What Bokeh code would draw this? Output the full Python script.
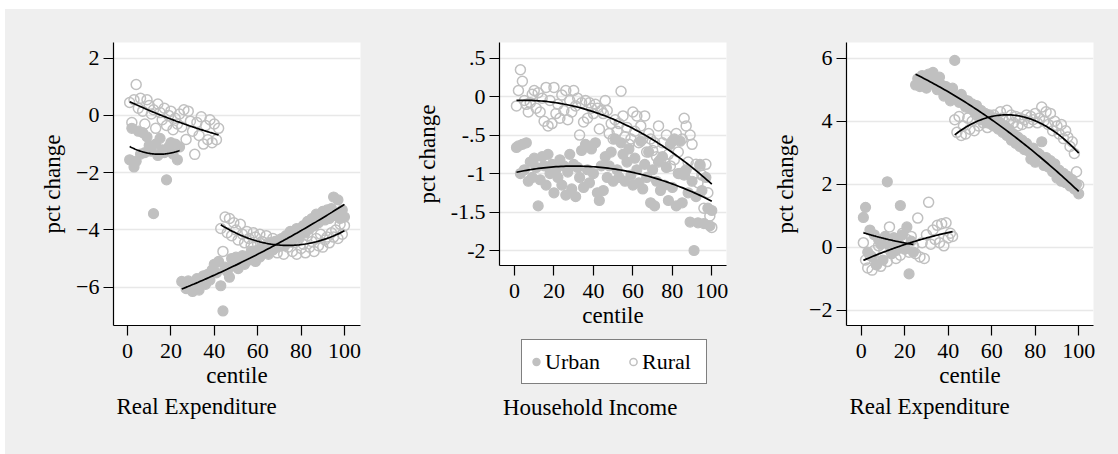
import numpy as np
from bokeh.plotting import figure
from bokeh.layouts import row, column
from bokeh.models import Range1d, FixedTicker, Legend, LegendItem, Title, Label
from bokeh.embed import file_html
from bokeh.resources import INLINE

# ---------------------------------------------------------------------------
# Data: percentage change by centile, urban and rural households
# ---------------------------------------------------------------------------
centile = list(range(1, 101))

# Real expenditure (left panel)
exp_a_urban = [
    -1.55, -0.45, -1.80, -1.60, -0.55, -1.35, -0.60, -1.30, -0.75, -1.05,
    -1.25, -3.43, -1.00, -1.40, -0.80, -1.20, -1.30, -2.25, -1.10, -0.95,
    -1.35, -1.00, -1.55, -1.10,
    -5.80, -5.85, -6.05, -5.78, -5.90, -6.15, -5.95, -5.70, -6.10, -5.85,
    -5.60, -5.90, -5.55, -5.75, -5.40, -5.20, -5.50, -5.10, -5.95, -6.83,
    -5.30, -5.45, -5.65, -5.00, -5.25, -4.95, -5.35, -5.10, -4.90, -5.20,
    -4.95, -5.05, -4.75, -4.85, -5.10, -4.70, -4.95, -4.60, -4.80, -4.55,
    -4.85, -4.45, -4.70, -4.40, -4.60, -4.50, -4.30, -4.55, -4.20, -4.40,
    -4.05, -4.35, -4.15, -3.95, -4.25, -4.00, -3.85, -4.10, -3.70, -3.95,
    -3.60, -3.85, -3.45, -3.75, -3.55, -3.35, -3.65, -3.30, -3.60, -3.25,
    -2.85, -3.50, -2.95, -3.60, -3.30, -3.55,
]
exp_a_rural = [
    0.45, -0.25, 0.55, 1.08, 0.25, 0.60, 0.15, -0.30, 0.55, 0.35,
    0.05, 0.20, -0.45, 0.40, 0.10, -0.15, 0.25, -0.35, 0.00, 0.15,
    -0.50, -0.10, -0.30, 0.05, -0.40, 0.20, -0.84, 0.15, -0.20, -0.55,
    -1.36, -0.25, -0.70, -0.05, -1.00, -0.35, -0.85, -0.15, -0.95, -0.30,
    -0.85, -0.45,
    -3.95, -4.75, -3.55, -4.10, -3.60, -4.20, -3.75, -4.00, -4.35, -3.80,
    -4.15, -4.45, -4.05, -4.30, -4.55, -4.10, -4.25, -4.50, -4.15, -4.40,
    -4.60, -4.20, -4.45, -4.70, -4.30, -4.50, -4.80, -4.35, -4.55, -4.85,
    -4.40, -4.60, -4.25, -4.75, -4.45, -4.85, -4.30, -4.65, -4.50, -4.80,
    -4.20, -4.60, -4.40, -4.75, -4.30, -4.55, -4.15, -4.60, -4.35, -4.25,
    -4.45, -4.10, -4.25, -4.00, -4.30, -3.80, -4.15, -3.85,
]

# Household income (middle panel)
inc_urban = [
    -0.66, -0.64, -1.00, -0.62, -0.95, -0.60, -1.10, -0.85, -1.05, -0.80,
    -0.92, -1.42, -1.08, -0.78, -0.90, -1.15, -0.75, -1.00, -0.88, -1.25,
    -0.95, -1.05, -0.82, -1.15, -0.90, -1.28, -0.98, -0.75, -1.20, -0.88,
    -1.30, -0.92, -1.05, -0.70, -1.18, -0.62, -0.95, -1.12, -0.68, -1.00,
    -0.60, -1.25, -1.35, -0.90, -1.22, -0.78, -1.05, -0.90, -0.72, -1.10,
    -0.55, -0.95, -1.05, -0.60, -0.75, -1.10, -0.85, -0.68, -1.02, -1.15,
    -0.80, -0.95, -1.12, -0.58, -1.20, -0.88, -1.05, -0.72, -1.38, -0.95,
    -1.42, -1.10, -0.85, -1.22, -0.78, -1.15, -0.92, -1.35, -0.62, -1.18,
    -0.55, -1.42, -1.00, -0.58, -1.38, -1.02, -0.95, -1.25, -1.63, -1.10,
    -2.00, -1.30, -1.64, -0.88, -1.22, -1.65, -1.05, -1.45, -1.68, -1.48,
]
inc_rural = [
    -0.12, 0.08, 0.35, 0.20, -0.05, -0.10, -0.20, -0.08, 0.03, 0.08,
    -0.15, 0.05, -0.20, -0.02, -0.32, 0.12, -0.38, -0.05, -0.35, 0.12,
    -0.22, -0.10, -0.28, 0.02, -0.18, 0.08, -0.30, -0.05, -0.20, 0.08,
    -0.12, -0.02, -0.50, -0.08, -0.33, -0.05, -0.28, -0.08, -0.15, -0.22,
    -0.10, -0.15, -0.42, -0.18, -0.22, -0.05, -0.18, -0.48, -0.35, -0.55,
    -0.30, -0.45, -0.35, 0.07, -0.25, -0.52, -0.40, -0.62, -0.55, -0.20,
    -0.45, -0.25, -0.60, -0.38, -0.55, -0.25, -0.72, -0.48, -0.55, -0.70,
    -0.60, -0.78, -0.38, -0.82, -0.60, -0.85, -0.50, -0.75, -0.90, -0.58,
    -0.82, -0.48, -0.72, -1.00, -0.55, -0.28, -0.38, -0.85, -0.50, -0.62,
    -1.00, -0.88, -1.12, -0.90, -1.02, -1.45, -0.88, -1.25, -1.55, -1.70,
]

# Real expenditure (right panel)
exp_b_urban = [
    0.95, 1.27, -0.15, 0.55, -0.30, 0.40, -0.55, 0.25, 0.10, -0.40,
    0.35, 2.08, 0.05, -0.20, 0.30, -0.10, 0.15, 1.33, 0.40, -0.05,
    0.65, -0.84, 0.20, -0.15,
    5.15, 5.35, 5.10, 5.45, 5.25, 5.05, 5.50, 5.30, 5.55, 5.20,
    5.00, 5.40, 5.15, 4.80, 5.10, 4.95, 4.65, 5.05, 5.93, 4.75,
    4.60, 4.85, 4.70, 4.45, 4.65, 4.40, 4.55, 4.30, 4.50, 4.15,
    4.35, 4.05, 4.25, 3.95, 4.20, 4.00, 3.85, 4.10, 3.75, 3.95,
    3.65, 3.85, 3.55, 3.75, 3.40, 3.60, 3.30, 3.50, 3.20, 3.40,
    3.10, 3.30, 3.05, 2.80, 3.15, 2.70, 3.00, 2.95, 3.35, 2.60,
    2.85, 2.55, 2.75, 2.40, 2.65, 2.20, 2.45, 2.10, 2.35, 2.05,
    2.25, 1.95, 2.15, 1.85, 2.00, 1.70,
]
exp_b_rural = [
    0.15, -0.40, -0.65, -0.25, -0.72, -0.10, -0.55, 0.05, -0.60, -0.30,
    0.20, -0.45, 0.65, -0.15, 0.30, -0.35, 0.10, -0.25, 0.45, -0.05,
    0.25, -0.15, 0.35, 0.05, -0.20, 0.93, -0.30, 0.15, -0.35, 0.40,
    1.43, 0.10, 0.55, 0.25, 0.70, 0.15, 0.75, 0.05, 0.78, 0.30,
    0.45, 0.35,
    4.05, 3.65, 4.15, 3.55, 3.85, 3.60, 4.10, 3.75, 4.00, 3.70,
    4.20, 3.85, 4.05, 3.95, 4.15, 3.80, 4.00, 3.90, 4.20, 4.05,
    3.95, 4.30, 4.10, 3.85, 4.35, 4.05, 4.20, 3.95, 4.15, 3.85,
    4.10, 3.90, 4.05, 4.20, 3.95, 4.15, 4.05, 4.25, 3.95, 4.10,
    4.45, 4.00, 4.30, 3.90, 4.25, 3.70, 4.00, 3.85, 3.60, 3.90,
    3.45, 3.70, 3.50, 3.20, 3.35, 2.98, 2.40, 1.98,
]

x_ticks = [0, 20, 40, 60, 80, 100]
group_labels = ["Urban", "Rural"]

# Centile ranges over which each quadratic fit is estimated
split_segments_urban = [(1, 24), (25, 100)]
split_segments_rural = [(1, 42), (43, 100)]
whole_range = [(1, 100)]

FONT = "Liberation Serif"
MARK = "#c0c0c0"
BG = "#efefef"
GRID = "#e8e8e8"


def quad_fit(p, x, y, segments):
    xs = np.asarray(x, dtype=float)
    ys = np.asarray(y, dtype=float)
    for lo, hi in segments:
        m = (xs >= lo) & (xs <= hi)
        coef = np.polyfit(xs[m], ys[m], 2)
        xx = np.linspace(lo, hi, 80)
        p.line(xx, np.polyval(coef, xx), line_color="black", line_width=1.7)


def add_points(p, urban, rural, **kw):
    ru = p.scatter(centile, urban, size=10, marker="circle",
                   fill_color=MARK, line_color=MARK, line_width=1.2, **kw)
    rr = p.scatter(centile, rural, size=10, marker="circle",
                   fill_color=None, line_color=MARK, line_width=1.5, **kw)
    return ru, rr


def make_panel(frame_w, frame_h, left, right, top, bottom, xr, yr, yticks,
               urban, rural, seg_u, seg_r, ylabels=None):
    p = figure(frame_width=frame_w, frame_height=frame_h,
               min_border_left=left, min_border_right=right,
               min_border_top=top, min_border_bottom=bottom,
               x_range=Range1d(*xr), y_range=Range1d(*yr),
               output_backend="svg", toolbar_location=None,
               background_fill_color="white", border_fill_color=BG,
               outline_line_color=None)

    p.xgrid.visible = False
    p.ygrid.grid_line_color = GRID
    p.ygrid.grid_line_width = 1.6

    for ax in (p.xaxis[0], p.yaxis[0]):
        ax.axis_line_color = "black"
        ax.axis_line_width = 1.2
        ax.major_tick_line_color = "black"
        ax.major_tick_line_width = 1.2
        ax.major_tick_in = 0
        ax.major_tick_out = 10
        ax.minor_tick_line_color = None
        ax.major_label_text_font = FONT
        ax.major_label_text_font_size = "22px"
        ax.major_label_text_color = "black"
        ax.axis_label_text_font = FONT
        ax.axis_label_text_font_size = "23px"
        ax.axis_label_text_font_style = "normal"
        ax.axis_label_text_color = "black"

    p.xaxis.ticker = FixedTicker(ticks=x_ticks)
    p.xaxis.axis_label = "centile"
    p.xaxis.major_label_standoff = 8
    p.xaxis.axis_label_standoff = 2

    p.yaxis.ticker = FixedTicker(ticks=yticks)
    p.yaxis.axis_label = "pct change"
    p.yaxis.major_label_standoff = 4
    p.yaxis.axis_label_standoff = 8
    p.yaxis.major_label_orientation = "horizontal"
    if ylabels:
        p.yaxis.major_label_overrides = ylabels

    add_points(p, urban, rural)
    quad_fit(p, centile, urban, seg_u)
    quad_fit(p, centile, rural, seg_r)
    return p


def add_subtitle(p, text, standoff):
    p.add_layout(Title(text=text, align="left", offset=3,
                       text_font=FONT, text_font_size="23px",
                       text_font_style="normal", text_color="black",
                       standoff=standoff), "below")


p1 = make_panel(247, 283, 108, 35, 33, 129,
                (-6.45, 107.4), (-7.338, 2.548), [-6, -4, -2, 0, 2],
                exp_a_urban, exp_a_rural,
                split_segments_urban, split_segments_rural)
add_subtitle(p1, "Real Expenditure", 2)

p2 = make_panel(227, 223, 104, 42, 33, 74,
                (-7.6, 107.45), (-2.195, 0.704),
                [-2, -1.5, -1, -0.5, 0, 0.5],
                inc_urban, inc_rural, whole_range, whole_range,
                ylabels={0.5: ".5", 0: "0", -0.5: "-.5", -1: "-1",
                         -1.5: "-1.5", -2: "-2"})

# Strip under the middle panel holding the shared legend and its caption;
# its frame lines up with the middle panel's frame.
p2_foot = figure(frame_width=227, frame_height=115,
                 min_border_left=104, min_border_right=42,
                 min_border_top=0, min_border_bottom=0,
                 x_range=Range1d(-7.6, 107.45),
                 y_range=Range1d(-2.195, 0.704),
                 x_axis_location=None, y_axis_location=None,
                 output_backend="svg", toolbar_location=None,
                 background_fill_color=BG, border_fill_color=BG,
                 outline_line_color=None)
p2_foot.grid.visible = False
key_u, key_r = add_points(p2_foot, inc_urban, inc_rural, visible=False)
legend = Legend(items=[LegendItem(label=group_labels[0], renderers=[key_u]),
                       LegendItem(label=group_labels[1], renderers=[key_r])],
                orientation="horizontal", location=(22, 70),
                glyph_width=18, glyph_height=33, label_standoff=0,
                label_width=59, spacing=20, padding=5,
                label_text_font=FONT, label_text_font_size="22px",
                label_text_color="black", inactive_fill_alpha=0,
                border_line_color="black", border_line_width=1.2,
                background_fill_color="white", background_fill_alpha=1)
p2_foot.add_layout(legend, "center")
p2_foot.add_layout(Label(x=3.5, y=47, x_units="screen", y_units="screen",
                         text="Household Income", text_font=FONT,
                         text_font_size="23px", text_color="black",
                         text_baseline="alphabetic", text_align="left"))

p3 = make_panel(247, 283, 78, 25, 33, 129,
                (-6.76, 106.8), (-2.476, 6.498), [-2, 0, 2, 4, 6],
                exp_b_urban, exp_b_rural,
                split_segments_urban, split_segments_rural)
add_subtitle(p3, "Real Expenditure", 2)

layout = row(p1, column(p2, p2_foot), p3, margin=(9, 0, 0, 5),
             styles={"background-color": BG})

open("out.html", "w").write(file_html(layout, INLINE))
